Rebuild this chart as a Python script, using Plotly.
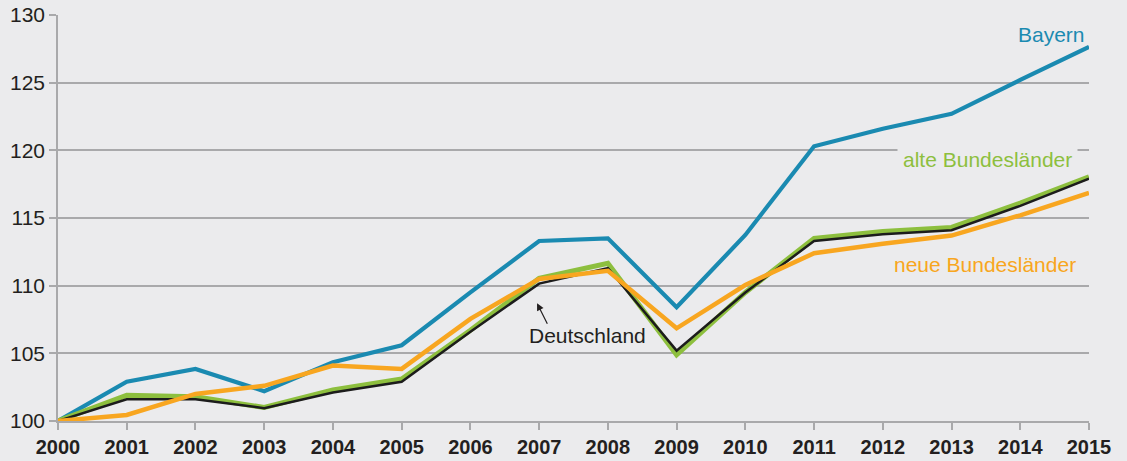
import plotly.graph_objects as go

years = list(range(2000, 2016))
bayern = [100, 102.9, 103.85, 102.2, 104.35, 105.6, 109.5, 113.3, 113.5, 108.4, 113.75, 120.3, 121.6, 122.7, 125.2, 127.65]
alte = [100, 101.9, 101.8, 101.0, 102.3, 103.1, 106.7, 110.55, 111.65, 104.9, 109.5, 113.5, 114.0, 114.3, 116.1, 118.05]
deutschland = [100, 101.6, 101.6, 100.95, 102.1, 102.9, 106.6, 110.15, 111.3, 105.2, 109.5, 113.3, 113.8, 114.1, 115.9, 117.9]
neue = [100, 100.45, 102.0, 102.6, 104.1, 103.85, 107.55, 110.5, 111.1, 106.85, 110.05, 112.4, 113.1, 113.7, 115.2, 116.85]

BLUE = "#1a8ab1"
GREEN = "#8dbf3e"
BLACK = "#1c1c1c"
ORANGE = "#f8a620"
BG = "#ebebed"
GRID = "#a9a9ab"

fig = go.Figure()
fig.add_trace(go.Scatter(x=years, y=bayern, mode="lines", name="Bayern",
                         line=dict(color=BLUE, width=4.2)))
fig.add_trace(go.Scatter(x=years, y=alte, mode="lines", name="alte Bundesländer",
                         line=dict(color=GREEN, width=5)))
fig.add_trace(go.Scatter(x=years, y=deutschland, mode="lines", name="Deutschland",
                         line=dict(color=BLACK, width=2.5)))
fig.add_trace(go.Scatter(x=years, y=neue, mode="lines", name="neue Bundesländer",
                         line=dict(color=ORANGE, width=4.5)))

font = "Liberation Sans, Arial, Helvetica, sans-serif"

fig.update_layout(
    width=1127, height=461,
    margin=dict(l=58, r=38, t=15, b=40, autoexpand=False),
    paper_bgcolor=BG, plot_bgcolor=BG,
    showlegend=False,
    font=dict(family=font, color="#231f20"),
    xaxis=dict(range=[2000, 2015], tickvals=years, ticktext=[str(y) for y in years],
               automargin=False,
               showgrid=False, zeroline=False, showline=True, linecolor=GRID, linewidth=1.5,
               ticks="outside", ticklen=7, tickcolor=GRID, tickwidth=1.5,
               tickfont=dict(family=font, size=20, color="#231f20", weight="bold")),
    yaxis=dict(range=[100, 130], tickvals=[100, 105, 110, 115, 120, 125, 130],
               automargin=False,
               showgrid=True, gridcolor=GRID, gridwidth=1.5, zeroline=False,
               showline=True, linecolor=GRID, linewidth=1.5,
               ticks="outside", ticklen=7, tickcolor=GRID, tickwidth=1.5,
               tickfont=dict(family=font, size=21, color="#231f20")),
)

fig.add_annotation(x=2014.97, y=128.55, text="Bayern", showarrow=False,
                   xanchor="right", yanchor="middle",
                   font=dict(family=font, size=21, color=BLUE))
fig.add_annotation(x=2014.84, y=119.3, text="alte Bundesländer", showarrow=False,
                   xanchor="right", yanchor="middle", bgcolor=BG, borderpad=5,
                   font=dict(family=font, size=21, color=GREEN))
fig.add_annotation(x=2014.84, y=111.55, text="neue Bundesländer", showarrow=False,
                   xanchor="right", yanchor="middle",
                   font=dict(family=font, size=21, color=ORANGE))
fig.add_annotation(x=2007.71, y=106.3, text="Deutschland", showarrow=False,
                   xanchor="center", yanchor="middle",
                   font=dict(family=font, size=21, color="#231f20"))
fig.add_annotation(x=2006.97, y=108.7, text="", showarrow=True,
                   ax=11, ay=22, axref="pixel", ayref="pixel",
                   arrowhead=2, arrowsize=1.2, arrowwidth=1.2, arrowcolor="#231f20")

fig.write_html("out.html", config={"displayModeBar": False},
               post_script="document.body.style.margin='0';document.body.style.background='%s';" % BG)
